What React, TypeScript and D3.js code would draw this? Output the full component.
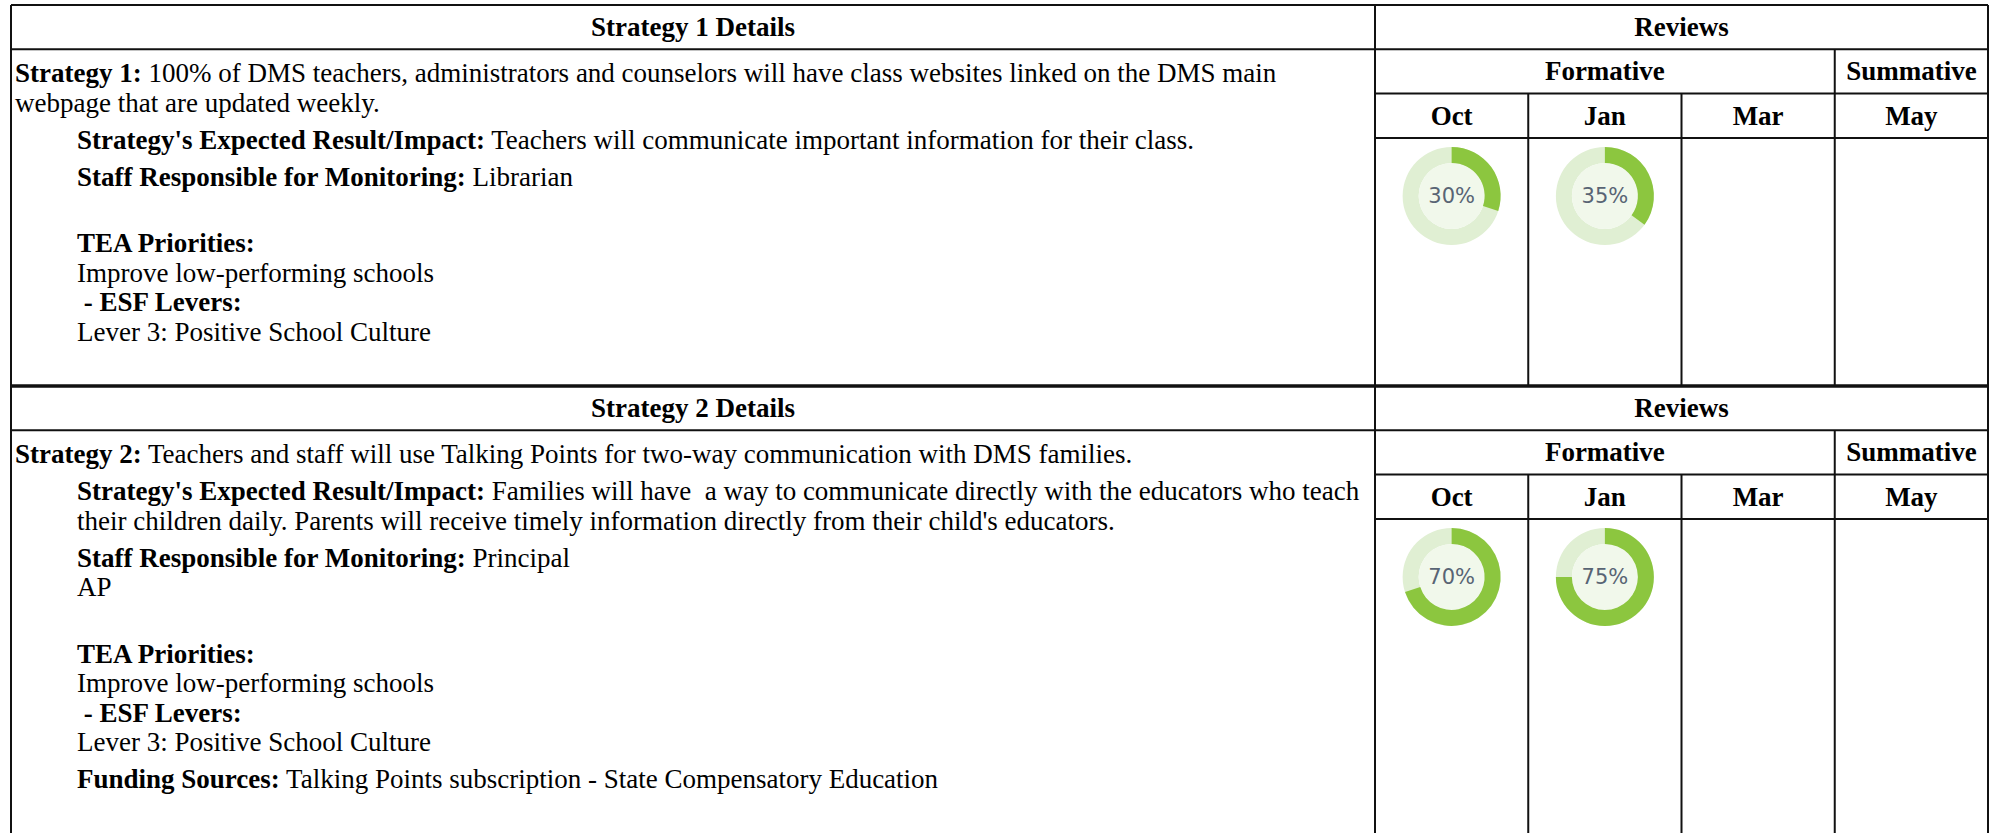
import React from "react";
import * as d3 from "d3";

// review columns and percent values read off the donuts (null = not reviewed yet)
const months = ["Oct", "Jan", "Mar", "May"];
const reviewGroups = [
  { label: "Formative", span: 3 },
  { label: "Summative", span: 1 },
];
const strategy1Reviews = [30, 35, null, null];
const strategy2Reviews = [70, 75, null, null];

const strategyTitles = ["Strategy 1 Details", "Strategy 2 Details"];

// text: paragraphs -> lines -> [text, bold]
const strategy1Text = [
  [
    [["Strategy 1:", true], [" 100% of DMS teachers, administrators and counselors will have class websites linked on the DMS main", false]],
    [["webpage that are updated weekly.", false]],
  ],
  [[["Strategy's Expected Result/Impact:", true], [" Teachers will communicate important information for their class.", false]]],
  [[["Staff Responsible for Monitoring:", true], [" Librarian", false]]],
  [
    [],
    [["TEA Priorities:", true]],
    [["Improve low-performing schools", false]],
    [[" - ESF Levers:", true]],
    [["Lever 3: Positive School Culture", false]],
  ],
];

const strategy2Text = [
  [[["Strategy 2:", true], [" Teachers and staff will use Talking Points for two-way communication with DMS families.", false]]],
  [
    [["Strategy's Expected Result/Impact:", true], [" Families will have  a way to communicate directly with the educators who teach", false]],
    [["their children daily. Parents will receive timely information directly from their child's educators.", false]],
  ],
  [
    [["Staff Responsible for Monitoring:", true], [" Principal", false]],
    [["AP", false]],
  ],
  [
    [],
    [["TEA Priorities:", true]],
    [["Improve low-performing schools", false]],
    [[" - ESF Levers:", true]],
    [["Lever 3: Positive School Culture", false]],
  ],
  [[["Funding Sources:", true], [" Talking Points subscription - State Compensatory Education", false]]],
];

const W = 1997;
const H = 833;
const left = 11;
const split = 1375;
const right = 1988;
const rowH = 44.3;
const serif = "'Liberation Serif', 'Times New Roman', serif";
const fs = 27;
const lineH = 29.5;
const paraGap = 37;

const x = d3.scaleBand().domain(months).range([split, right]);
const angle = d3.scaleLinear().domain([0, 100]).range([0, 2 * Math.PI]);
const arc = d3.arc().innerRadius(33).outerRadius(49).startAngle(0);

function layoutLines(paras) {
  const out = [];
  let y = 0;
  paras.forEach((p, pi) => {
    p.forEach((line, li) => {
      if (pi === 0 && li === 0) y = 0;
      else y += li === 0 ? paraGap : lineH;
      out.push({ y, parts: line, indent: pi > 0 });
    });
  });
  return out;
}

function Section({ top, bottom, title, paras, reviews }) {
  const r1 = top + rowH;
  const r2 = r1 + rowH;
  const r3 = r2 + rowH;
  const lines = layoutLines(paras);
  const cy = r3 + 58;
  let col = 0;
  return (
    <g>
      {/* header texts */}
      <text x={(left + split) / 2} y={top + rowH / 2 + 9} textAnchor="middle" fontWeight="bold" fontSize={fs} fontFamily={serif}>{title}</text>
      <text x={(split + right) / 2} y={top + rowH / 2 + 9} textAnchor="middle" fontWeight="bold" fontSize={fs} fontFamily={serif}>Reviews</text>
      {reviewGroups.map((g) => {
        const x0 = x(months[col]);
        const x1 = x(months[col + g.span - 1]) + x.bandwidth();
        col += g.span;
        return (
          <text key={g.label} x={(x0 + x1) / 2} y={r1 + rowH / 2 + 9} textAnchor="middle" fontWeight="bold" fontSize={fs} fontFamily={serif}>{g.label}</text>
        );
      })}
      {months.map((m) => (
        <text key={m} x={x(m) + x.bandwidth() / 2} y={r2 + rowH / 2 + 9} textAnchor="middle" fontWeight="bold" fontSize={fs} fontFamily={serif}>{m}</text>
      ))}

      {/* body text */}
      {lines.map((l, i) => (
        <text key={i} x={l.indent ? 77 : 15} y={r1 + 33 + l.y} fontSize={fs} fontFamily={serif} style={{ whiteSpace: "pre" }}>
          {l.parts.map(([t, b], j) => (
            <tspan key={j} fontWeight={b ? "bold" : "normal"}>{t}</tspan>
          ))}
        </text>
      ))}

      {/* donuts */}
      {reviews.map((v, i) => {
        if (v == null) return null;
        const cx = x(months[i]) + x.bandwidth() / 2;
        return (
          <g key={i} transform={`translate(${cx},${cy})`}>
            <path d={arc({ endAngle: 2 * Math.PI })} fill="#e0efd3" />
            <circle r={33} fill="#f1f8eb" />
            <path d={arc({ endAngle: angle(v) })} fill="#8cc63f" />
            <text y={7.5} textAnchor="middle" fontSize={21} fontFamily="'DejaVu Sans', Verdana, sans-serif" fill="#586474">{v}%</text>
          </g>
        );
      })}

      {/* grid lines */}
      <g stroke="#111" strokeWidth={2}>
        <line x1={left} x2={right} y1={r1} y2={r1} />
        <line x1={split} x2={right} y1={r2} y2={r2} />
        <line x1={split} x2={right} y1={r3} y2={r3} />
        <line x1={left} x2={left} y1={top} y2={bottom} />
        <line x1={split} x2={split} y1={top} y2={bottom} />
        <line x1={right} x2={right} y1={top} y2={bottom} />
        {months.slice(1).map((m) => (
          <line key={m} x1={x(m)} x2={x(m)} y1={r2} y2={bottom} />
        ))}
        <line x1={x("May")} x2={x("May")} y1={r1} y2={r2} />
      </g>
    </g>
  );
}

export default function App() {
  return (
    <svg width={W} height={H} style={{ position: "absolute", left: 0, top: 0, background: "#fff" }}>
      <rect width={W} height={H} fill="#fff" />
      <Section top={5} bottom={386} title={strategyTitles[0]} paras={strategy1Text} reviews={strategy1Reviews} />
      <Section top={386} bottom={H + 2} title={strategyTitles[1]} paras={strategy2Text} reviews={strategy2Reviews} />
      <line x1={left} x2={right} y1={5} y2={5} stroke="#111" strokeWidth={2} />
      <line x1={left - 1} x2={right + 1} y1={386} y2={386} stroke="#111" strokeWidth={3.5} />
    </svg>
  );
}
